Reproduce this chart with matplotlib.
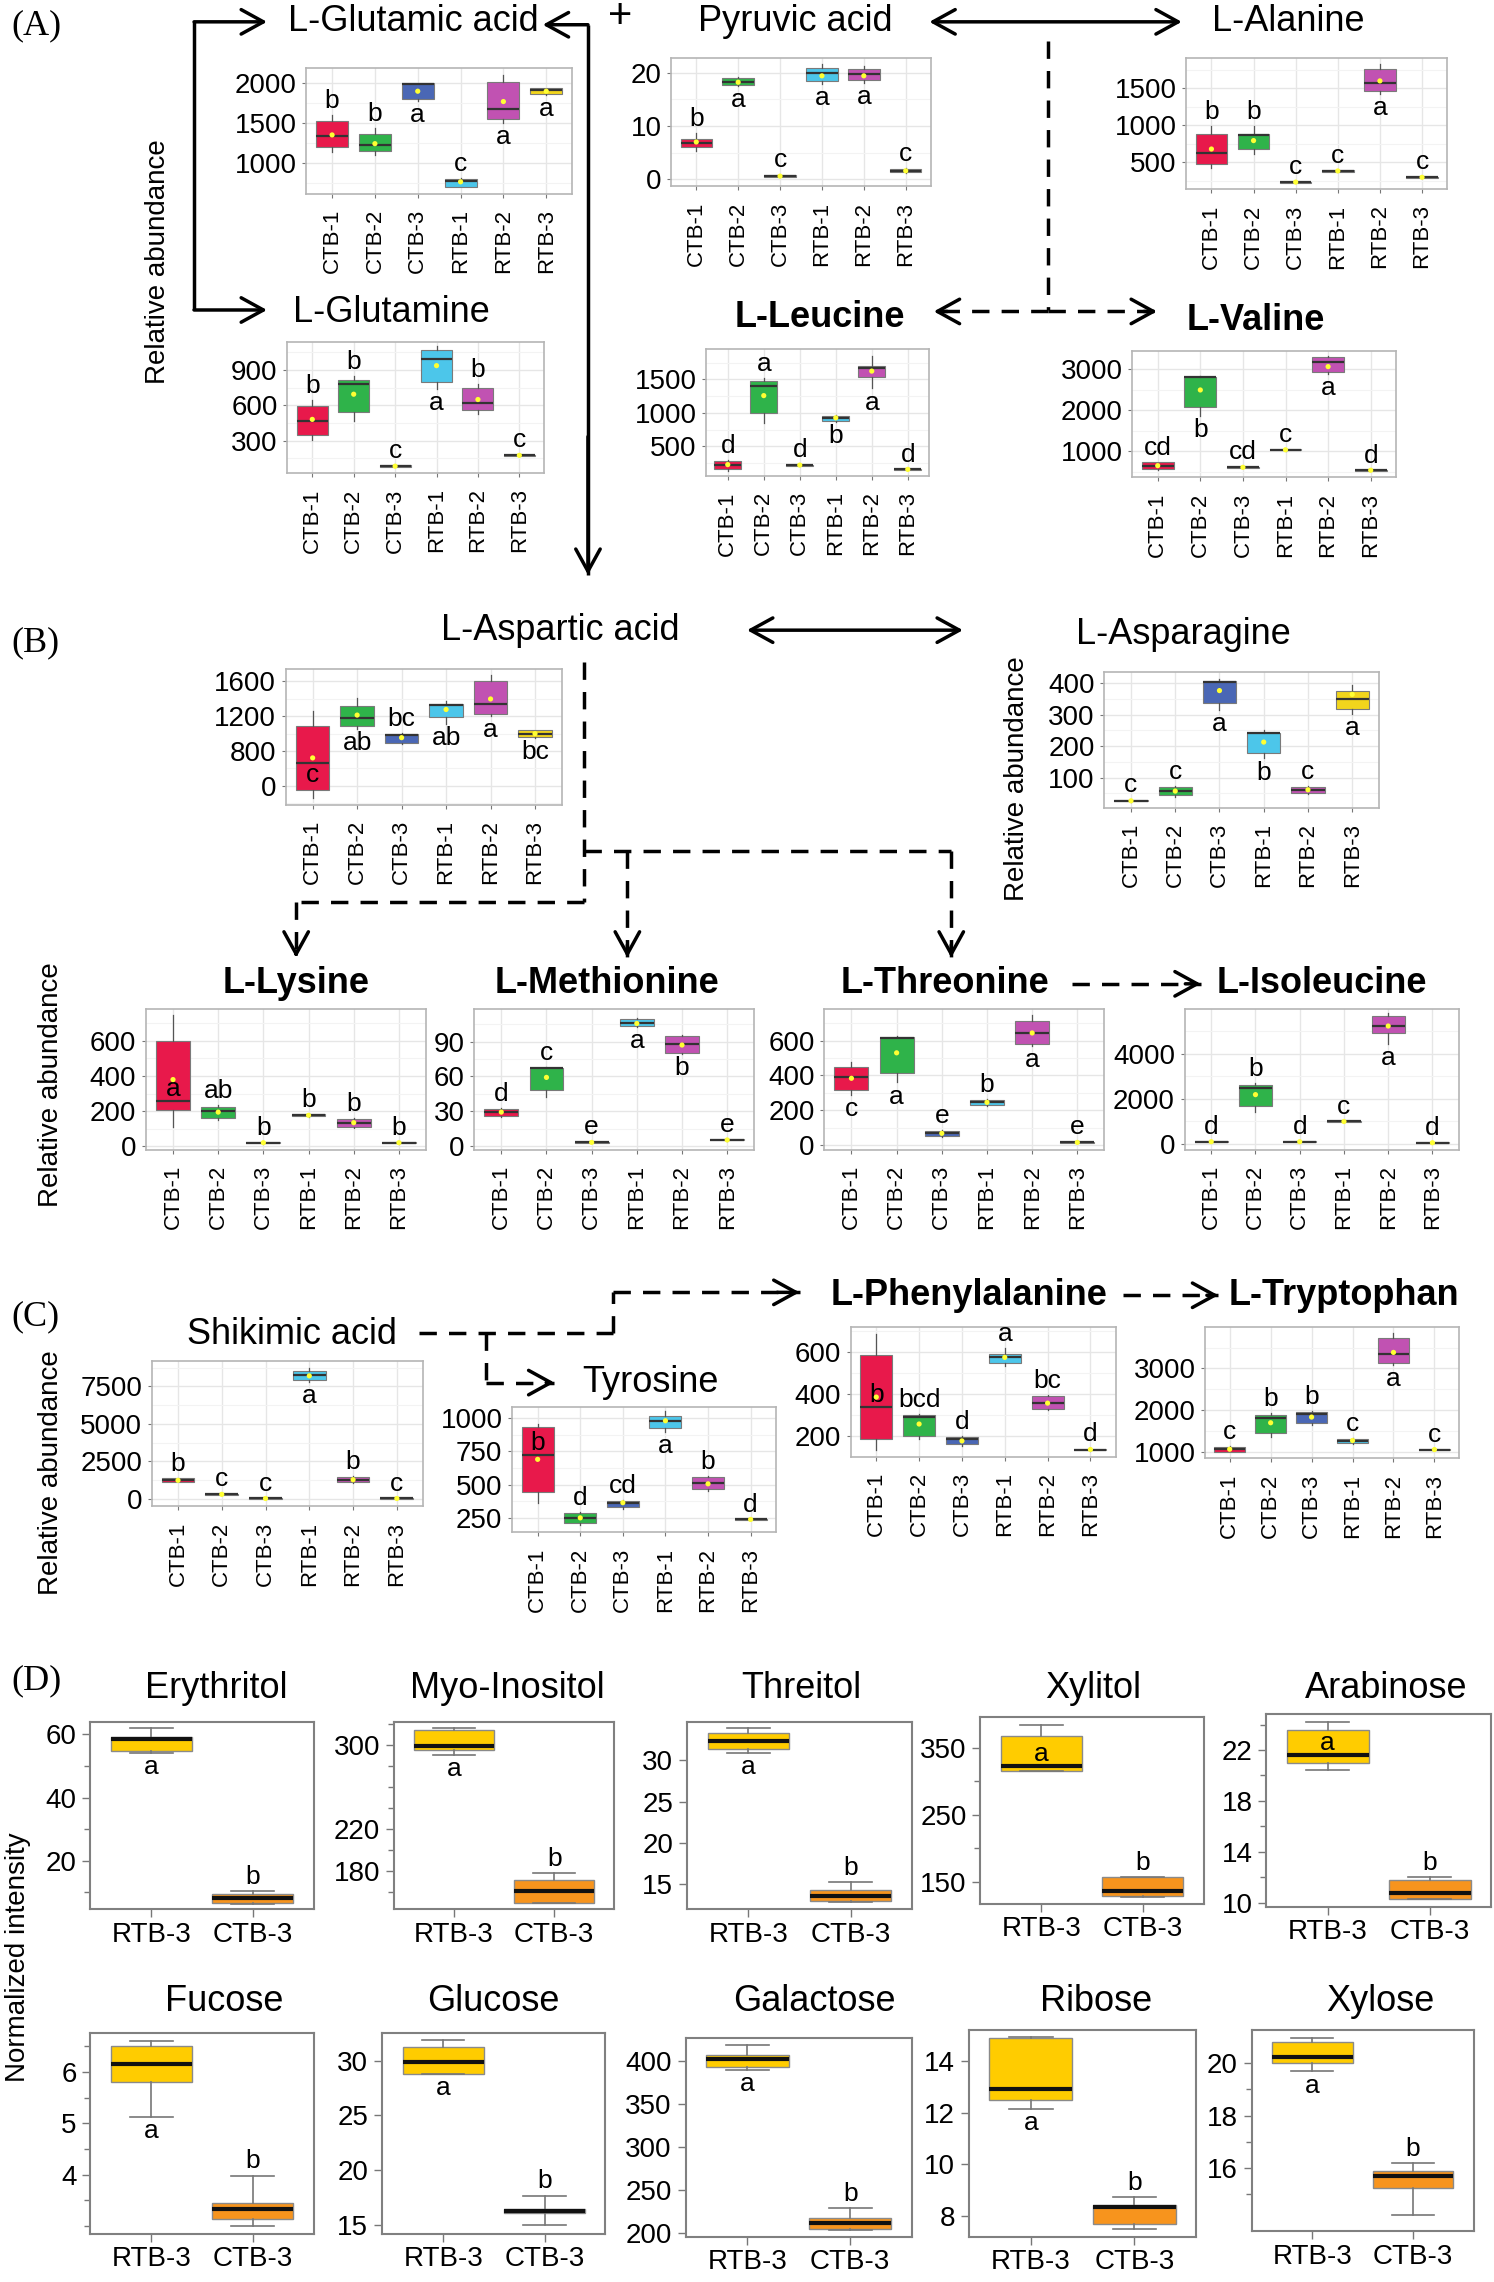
import matplotlib
matplotlib.use('Agg')
import matplotlib.pyplot as plt
from matplotlib.ticker import FixedLocator, AutoMinorLocator

plt.rcParams['font.family'] = ['Liberation Sans', 'DejaVu Sans']

# ---------------- data ----------------
GROUPS = ['CTB-1', 'CTB-2', 'CTB-3', 'RTB-1', 'RTB-2', 'RTB-3']
# box = (whisker low, q1, median, q3, whisker high)
GLU_BOX = [(1140, 1200, 1337, 1525, 1600), (1100, 1150, 1225, 1362, 1437), (1780, 1800, 1985, 2000, 2005),
           (690, 700, 775, 800, 805), (1500, 1550, 1675, 2012, 2110), (1850, 1862, 1912, 1937, 1945)]
GLU_MEAN = [1350, 1240, 1900, 760, 1770, 1900]
GLU_LET = ['b', 'b', 'a', 'c', 'a', 'a']

PYR_BOX = [(5.4, 6.1, 6.8, 7.65, 8.7), (17.5, 17.6, 18.3, 19.0, 19.1), (0.4, 0.5, 0.6, 0.8, 0.9),
           (17.8, 18.5, 20.0, 20.9, 21.7), (18.0, 18.7, 19.7, 20.7, 21.2), (1.2, 1.3, 1.6, 2.0, 2.1)]
PYR_MEAN = [7.0, 18.2, 0.6, 19.4, 19.4, 1.6]
PYR_LET = ['b', 'a', 'c', 'a', 'a', 'c']

ALA_BOX = [(422, 473, 619, 879, 983), (610, 682, 870, 879, 993), (215, 222, 230, 238, 245),
           (365, 372, 381, 390, 396), (1418, 1463, 1578, 1760, 1829), (282, 288, 295, 302, 308)]
ALA_MEAN = [678, 792, 230, 381, 1600, 295]
ALA_LET = ['b', 'b', 'c', 'c', 'a', 'c']

GLN_BOX = [(305, 347, 468, 598, 646), (468, 543, 780, 816, 845), (72, 76, 82, 88, 92),
           (738, 794, 995, 1073, 1101), (529, 556, 618, 744, 780), (166, 170, 174, 178, 182)]
GLN_MEAN = [480, 694, 82, 937, 649, 174]
GLN_LET = ['b', 'b', 'c', 'a', 'b', 'c']

LEU_BOX = [(140, 159, 217, 286, 300), (854, 996, 1404, 1477, 1520), (210, 215, 223, 231, 236),
           (870, 883, 927, 961, 975), (1365, 1535, 1676, 1696, 1850), (150, 154, 159, 164, 168)]
LEU_MEAN = [230, 1258, 223, 927, 1623, 159]
LEU_LET = ['d', 'a', 'd', 'b', 'a', 'd']

VAL_BOX = [(530, 555, 643, 721, 740), (1850, 2071, 2802, 2817, 2830), (580, 590, 602, 614, 625),
           (1005, 1015, 1031, 1047, 1060), (2881, 2921, 3174, 3293, 3317), (515, 522, 531, 540, 547)]
VAL_MEAN = [643, 2493, 602, 1031, 3064, 531]
VAL_LET = ['cd', 'b', 'cd', 'c', 'a', 'd']

ASP_BOX = [(259, 356, 664, 1084, 1261), (1050, 1091, 1184, 1316, 1408), (880, 895, 984, 999, 1010),
           (1108, 1192, 1330, 1339, 1377), (1204, 1230, 1334, 1597, 1674), (950, 961, 999, 1038, 1045)]
ASP_MEAN = [721, 1212, 953, 1276, 1397, 999]
ASP_LET = ['c', 'ab', 'bc', 'ab', 'a', 'bc']
ASP_TICKS = [400, 800, 1200, 1600]
ASP_TICKLABELS = ['0', '800', '1200', '1600']

ASN_BOX = [(22, 24, 26, 28, 30), (38, 43, 57, 69, 72), (314, 339, 405, 407, 415),
           (161, 178, 241, 243, 251), (48, 51, 61, 71, 74), (304, 319, 349, 375, 395)]
ASN_MEAN = [26, 57, 377, 213, 61, 365]
ASN_LET = ['c', 'c', 'a', 'b', 'c', 'a']

LYS_BOX = [(110, 208, 258, 600, 745), (150, 163, 201, 226, 235), (15, 18, 21, 24, 27),
           (168, 172, 177, 182, 186), (105, 110, 135, 155, 160), (15, 18, 21, 24, 27)]
LYS_MEAN = [380, 195, 21, 177, 135, 21]
LYS_LET = ['a', 'ab', 'b', 'b', 'b', 'b']

MET_BOX = [(25.5, 26.4, 29.4, 32.3, 33.0), (42.8, 48.4, 67.3, 67.6, 68.0), (2.6, 3.0, 3.4, 3.8, 4.2),
           (102.5, 103.1, 105.5, 109.3, 110.5), (79.0, 80.2, 87.6, 95.0, 96.0), (4.8, 5.1, 5.5, 5.9, 6.2)]
MET_MEAN = [29.4, 59.2, 3.4, 105.5, 87.0, 5.5]
MET_LET = ['d', 'c', 'e', 'a', 'b', 'e']

THR_BOX = [(290, 314, 394, 450, 480), (360, 416, 617, 620, 625), (48, 54, 68, 80, 85),
           (225, 230, 246, 260, 265), (570, 580, 644, 714, 746), (10, 13, 16, 19, 22)]
THR_MEAN = [384, 530, 68, 246, 644, 16]
THR_LET = ['c', 'a', 'e', 'b', 'a', 'e']

ILE_BOX = [(80, 92, 106, 120, 130), (1413, 1690, 2490, 2614, 2700), (80, 92, 106, 120, 130),
           (970, 982, 998, 1014, 1025), (4416, 4924, 5215, 5649, 5769), (35, 46, 60, 74, 85)]
ILE_MEAN = [106, 2185, 106, 998, 5215, 60]
ILE_LET = ['d', 'b', 'd', 'c', 'a', 'd']

SHI_BOX = [(1100, 1120, 1240, 1365, 1380), (240, 260, 304, 350, 370), (-20, 0, 30, 60, 80),
           (7800, 7915, 8240, 8540, 8700), (1080, 1120, 1280, 1490, 1520), (-20, 0, 30, 60, 80)]
SHI_MEAN = [1240, 304, 30, 8200, 1280, 30]
SHI_LET = ['b', 'c', 'c', 'a', 'b', 'c']

TYR_BOX = [(360, 445, 719, 934, 958), (200, 208, 250, 287, 295), (320, 328, 364, 379, 385),
           (897, 929, 975, 1015, 1056), (455, 465, 511, 555, 565), (232, 235, 238, 241, 244)]
TYR_MEAN = [690, 250, 364, 980, 506, 238]
TYR_LET = ['b', 'd', 'cd', 'a', 'b', 'd']

PHE_BOX = [(132, 184, 340, 586, 687), (184, 200, 289, 300, 305), (150, 159, 186, 194, 198),
           (533, 549, 576, 592, 621), (325, 330, 357, 389, 395), (130, 132, 135, 138, 140)]
PHE_MEAN = [386, 257, 176, 576, 357, 135]
PHE_LET = ['b', 'bcd', 'd', 'a', 'bc', 'd']

TRP_BOX = [(1000, 1016, 1072, 1136, 1150), (1360, 1464, 1824, 1896, 1944), (1640, 1696, 1912, 1960, 1975),
           (1200, 1216, 1280, 1320, 1330), (3080, 3136, 3336, 3736, 3840), (1050, 1055, 1064, 1073, 1078)]
TRP_MEAN = [1072, 1704, 1840, 1280, 3384, 1064]
TRP_LET = ['c', 'b', 'b', 'c', 'a', 'c']

# panel D: RTB-3 vs CTB-3
D_GROUPS = ['RTB-3', 'CTB-3']
D_LET = ['a', 'b']
ERY_BOX = [(54.2, 54.6, 58.5, 59.0, 61.9), (6.2, 6.5, 8.1, 9.4, 10.4)]
MYO_BOX = [(290.3, 295.0, 298.8, 313.6, 316.4), (148.8, 148.8, 160.5, 171.4, 177.3)]
THREI_BOX = [(30.9, 31.4, 32.4, 33.3, 33.9), (12.8, 12.9, 13.5, 14.3, 15.25)]
XYLT_BOX = [(315.0, 315.7, 323.5, 368.7, 385.0), (127.0, 128.9, 136.1, 157.2, 157.2)]
ARA_BOX = [(20.4, 21.0, 21.6, 23.6, 24.2), (10.3, 10.3, 10.8, 11.8, 12.0)]
FUC_BOX = [(5.12, 5.8, 6.16, 6.5, 6.6), (3.0, 3.14, 3.32, 3.44, 3.98)]
GLC_BOX = [(28.75, 28.75, 29.9, 31.2, 31.9), (15.0, 16.1, 16.3, 16.5, 17.7)]
GAL_BOX = [(389, 393, 402.4, 407, 418), (202.5, 204, 211, 217, 229)]
RIB_BOX = [(12.15, 12.5, 12.9, 14.9, 14.95), (7.47, 7.67, 8.33, 8.41, 8.71)]
XYL_BOX = [(19.68, 20.0, 20.24, 20.8, 20.96), (14.2, 15.25, 15.7, 15.87, 16.2)]

# ---------------- layout helpers ----------------
W, H = 1024.0, 1568.0
COLORS = ['#E8194B', '#2FB34A', '#4A67B5', '#4CC6EA', '#C152B2', '#F2D51C']
D_COLORS = ['#FFCC00', '#F7941D']

fig = plt.figure(figsize=(14.94, 22.82), dpi=100)
ov = fig.add_axes([0, 0, 1, 1])
ov.set_xlim(0, W)
ov.set_ylim(H, 0)
ov.axis('off')


def rect(x0, y0, x1, y1):
    return [x0 / W, 1 - y1 / H, (x1 - x0) / W, (y1 - y0) / H]


def put_letters(ax, box, letters, sides, size, pos):
    for x, b, l, s in zip(pos, box, letters, sides):
        if s == 'u':
            y, va, dy = b[4], 'bottom', 1
        elif s == 'd':
            y, va, dy = b[0], 'top', -1
        elif s == 'm':
            y, va, dy = b[2], 'bottom', 0
        else:
            y, va, dy = b[2], 'top', 0
        ax.annotate(l, (x, y), xytext=(0, dy * 1.5), textcoords='offset points',
                    ha='center', va=va, fontsize=size, annotation_clip=False)


def gg_panel(r, box, mean, letters, sides, ylim, ticks, ticklabels=None):
    ax = fig.add_axes(rect(*r))
    stats = [dict(whislo=b[0], q1=b[1], med=b[2], q3=b[3], whishi=b[4], fliers=[]) for b in box]
    pos = list(range(1, 7))
    art = ax.bxp(stats, positions=pos, widths=0.75, patch_artist=True, showfliers=False, showcaps=False,
                 boxprops=dict(edgecolor='#7a7a7a', linewidth=0.8),
                 medianprops=dict(color='#333333', linewidth=1.6),
                 whiskerprops=dict(color='#555555', linewidth=0.9))
    for p, c in zip(art['boxes'], COLORS):
        p.set_facecolor(c)
    ax.scatter(pos, mean, s=14, color='#FFFF33', zorder=5, edgecolors='none')
    put_letters(ax, box, letters, sides, 19, pos)
    ax.set_xlim(0.4, 6.6)
    ax.set_ylim(*ylim)
    ax.yaxis.set_major_locator(FixedLocator(ticks))
    if ticklabels is not None:
        ax.set_yticklabels(ticklabels)
    ax.yaxis.set_minor_locator(AutoMinorLocator(2))
    ax.set_xticks(pos)
    ax.set_xticklabels(GROUPS, rotation=90)
    ax.grid(True, which='major', color='#e6e6e6', lw=1.0)
    ax.grid(True, which='minor', axis='y', color='#f3f3f3', lw=0.8)
    ax.set_axisbelow(True)
    ax.tick_params(axis='both', which='major', length=3, width=0.8, color='#777777', pad=4)
    ax.tick_params(axis='y', labelsize=20)
    ax.tick_params(axis='x', labelsize=16, pad=8)
    ax.tick_params(which='minor', length=0)
    for s in ax.spines.values():
        s.set_color('#b5b5b5')
        s.set_linewidth(1.2)
    return ax


def d_panel(r, box, sides, ylim, ticks, minor):
    ax = fig.add_axes(rect(*r))
    stats = [dict(whislo=b[0], q1=b[1], med=b[2], q3=b[3], whishi=b[4], fliers=[]) for b in box]
    pos = [1, 2]
    art = ax.bxp(stats, positions=pos, widths=0.8, patch_artist=True, showfliers=False,
                 capwidths=0.42,
                 boxprops=dict(edgecolor='#8a8a8a', linewidth=1.0),
                 medianprops=dict(color='#111111', linewidth=3.0),
                 whiskerprops=dict(color='#777777', linewidth=1.2),
                 capprops=dict(color='#777777', linewidth=1.2))
    for p, c in zip(art['boxes'], D_COLORS):
        p.set_facecolor(c)
    put_letters(ax, box, D_LET, sides, 19, pos)
    ax.set_xlim(0.4, 2.6)
    ax.set_ylim(*ylim)
    ax.yaxis.set_major_locator(FixedLocator(ticks))
    ax.yaxis.set_minor_locator(FixedLocator(minor))
    ax.set_xticks(pos)
    ax.set_xticklabels(D_GROUPS)
    ax.tick_params(axis='both', which='major', length=6, width=1.0, color='#777777', labelsize=20, pad=4)
    ax.tick_params(axis='x', pad=3)
    ax.tick_params(which='minor', length=4, width=1.0, color='#777777')
    for s in ax.spines.values():
        s.set_color('#808080')
        s.set_linewidth(1.5)
    return ax


def title(x, y, s, bold=False, size=26):
    ov.text(x, y, s, ha='center', va='center', fontsize=size,
            fontweight='bold' if bold else 'normal')


def vlabel(x, y, s):
    ov.text(x, y, s, ha='center', va='center', rotation=90, fontsize=20)


def arrow(x0, y0, x1, y1, style='->'):
    ov.annotate('', xy=(x1, y1), xytext=(x0, y0),
                arrowprops=dict(arrowstyle=style + ',head_length=0.4,head_width=0.22', lw=2.5,
                                color='k', mutation_scale=40, shrinkA=0, shrinkB=0))


def line(xs, ys, dashed=False):
    ov.plot(xs, ys, color='k', lw=2.5, ls=(0, (5, 3.5)) if dashed else '-', solid_capstyle='butt')


def darrow(x0, y0, x1, y1):
    # dashed line ending in a solid open head
    line([x0, x1], [y0, y1], dashed=True)
    fx = x1 - 0.12 * (x1 - x0)
    fy = y1 - 0.12 * (y1 - y0)
    arrow(fx, fy, x1, y1)


# ---------------- panel A ----------------
ov.text(8, 18, '(A)', ha='left', va='center', fontsize=26, family='Liberation Serif')
gg_panel((210, 47, 392, 133), GLU_BOX, GLU_MEAN, GLU_LET, 'uududd', (612, 2187), [1000, 1500, 2000])
gg_panel((460, 40, 638, 128), PYR_BOX, PYR_MEAN, PYR_LET, 'ududdu', (-1.3, 22.7), [0, 10, 20])
gg_panel((813, 40, 992, 130), ALA_BOX, ALA_MEAN, ALA_LET, 'uuuudu', (134, 1907), [500, 1000, 1500])
gg_panel((197, 235, 373, 325), GLN_BOX, GLN_MEAN, GLN_LET, 'uuuduu', (24, 1138), [300, 600, 900])
gg_panel((484, 240, 637, 327), LEU_BOX, LEU_MEAN, LEU_LET, 'uuuddu', (62, 1948), [500, 1000, 1500])
gg_panel((776, 241, 957, 328), VAL_BOX, VAL_MEAN, VAL_LET, 'uduudu', (357, 3452), [1000, 2000, 3000])

title(283, 15, 'L-Glutamic acid')
title(545, 15, 'Pyruvic acid')
title(883, 15, 'L-Alanine')
title(268, 215, 'L-Glutamine')
title(562, 218, 'L-Leucine', bold=True)
title(861, 220, 'L-Valine', bold=True)
vlabel(108, 180, 'Relative abundance')
ov.text(425, 12, '+', ha='center', va='center', fontsize=30)

line([133, 133], [15, 213])
arrow(133, 15, 183, 15)
arrow(133, 213, 183, 213)
line([403, 403], [17, 395])
arrow(403, 17, 372, 17)
arrow(403, 300, 403, 395)
arrow(637, 15, 810, 15, style='<->')
line([718, 718], [28, 213], dashed=True)
darrow(718, 214, 640, 214)
darrow(718, 214, 793, 214)

# ---------------- panel B ----------------
ov.text(8, 442, '(B)', ha='left', va='center', fontsize=26, family='Liberation Serif')
gg_panel((196, 460, 385, 553), ASP_BOX, ASP_MEAN, ASP_LET, 'ndudd d'.replace(' ', ''), (183, 1735),
         ASP_TICKS, ASP_TICKLABELS)
gg_panel((757, 462, 945, 555), ASN_BOX, ASN_MEAN, ASN_LET, 'uuddud', (4, 435), [100, 200, 300, 400])
gg_panel((100, 693, 292, 790), LYS_BOX, LYS_MEAN, LYS_LET, 'muuuuu', (-19, 784), [0, 200, 400, 600])
gg_panel((325, 693, 517, 790), MET_BOX, MET_MEAN, MET_LET, 'uuuddu', (-2.9, 118.3), [0, 30, 60, 90])
gg_panel((565, 693, 757, 790), THR_BOX, THR_MEAN, THR_LET, 'dduudu', (-26, 784), [0, 200, 400, 600])
gg_panel((812, 693, 1000, 790), ILE_BOX, ILE_MEAN, ILE_LET, 'uuuudu', (-249, 5986), [0, 2000, 4000])

title(384, 433, 'L-Aspartic acid')
arrow(512, 433, 660, 433, style='<->')
title(811, 436, 'L-Asparagine')
vlabel(697, 535, 'Relative abundance')
line([400, 400], [455, 620], dashed=True)
line([400, 203], [620, 620], dashed=True)
darrow(203, 620, 203, 658)
line([400, 652], [585, 585], dashed=True)
darrow(430, 585, 430, 658)
darrow(652, 585, 652, 658)
title(203, 676, 'L-Lysine', bold=True)
title(416, 676, 'L-Methionine', bold=True)
title(648, 676, 'L-Threonine', bold=True)
title(906, 676, 'L-Isoleucine', bold=True)
darrow(735, 676, 823, 676)
vlabel(35, 745, 'Relative abundance')

# ---------------- panel C ----------------
ov.text(8, 905, '(C)', ha='left', va='center', fontsize=26, family='Liberation Serif')
gg_panel((104, 935, 290, 1035), SHI_BOX, SHI_MEAN, SHI_LET, 'uuuduu', (-490, 9206), [0, 2500, 5000, 7500])
gg_panel((351, 967, 532, 1053), TYR_BOX, TYR_MEAN, TYR_LET, 'muuduu', (140, 1081), [250, 500, 750, 1000])
gg_panel((583, 912, 765, 1001), PHE_BOX, PHE_MEAN, PHE_LET, 'muuuuu', (100, 720), [200, 400, 600])
gg_panel((826, 912, 1000, 1002), TRP_BOX, TRP_MEAN, TRP_LET, 'uuuudu', (856, 3984), [1000, 2000, 3000])

title(200, 917, 'Shikimic acid')
line([287, 420], [916, 916], dashed=True)
line([420, 420], [916, 888], dashed=True)
darrow(420, 888, 548, 888)
line([333, 333], [916, 950], dashed=True)
darrow(333, 950, 380, 950)
title(446, 950, 'Tyrosine')
title(664, 890, 'L-Phenylalanine', bold=True)
darrow(770, 890, 835, 890)
title(921, 890, 'L-Tryptophan', bold=True)
vlabel(35, 1012, 'Relative abundance')

# ---------------- panel D ----------------
ov.text(8, 1155, '(D)', ha='left', va='center', fontsize=26, family='Liberation Serif')
d_panel((62, 1183, 215, 1312), ERY_BOX, 'du', (4.6, 64), [20, 40, 60], [10, 30, 50])
d_panel((270, 1183, 421, 1312), MYO_BOX, 'du', (143, 322), [180, 220, 300], [160, 200, 240, 260, 280, 320])
d_panel((471, 1183, 625, 1312), THREI_BOX, 'du', (11.9, 34.7), [15, 20, 25, 30], [])
d_panel((672, 1180, 825, 1308), XYLT_BOX, 'mu', (117, 396), [150, 250, 350], [200, 300])
d_panel((868, 1178, 1022, 1310), ARA_BOX, 'mu', (9.7, 24.8), [10, 14, 18, 22], [12, 16, 20, 24])
d_panel((62, 1397, 215, 1535), FUC_BOX, 'du', (2.84, 6.76), [4, 5, 6], [3, 3.5, 4.5, 5.5, 6.5])
d_panel((262, 1397, 415, 1535), GLC_BOX, 'du', (14.2, 32.5), [15, 20, 25, 30], [])
d_panel((470, 1400, 625, 1537), GAL_BOX, 'du', (195, 427), [200, 250, 300, 350, 400], [])
d_panel((664, 1395, 820, 1537), RIB_BOX, 'du', (7.17, 15.2), [8, 10, 12, 14], [])
d_panel((858, 1395, 1010, 1533), XYL_BOX, 'du', (13.6, 21.25), [16, 18, 20], [15, 17, 19])

for x, s in zip([148, 348, 549, 749, 950], ['Erythritol', 'Myo-Inositol', 'Threitol', 'Xylitol', 'Arabinose']):
    title(x, 1160, s)
for x, s in zip([154, 338, 558, 751, 946], ['Fucose', 'Glucose', 'Galactose', 'Ribose', 'Xylose']):
    title(x, 1375, s)
vlabel(12, 1345, 'Normalized intensity')

fig.savefig('out.png', dpi=100)
